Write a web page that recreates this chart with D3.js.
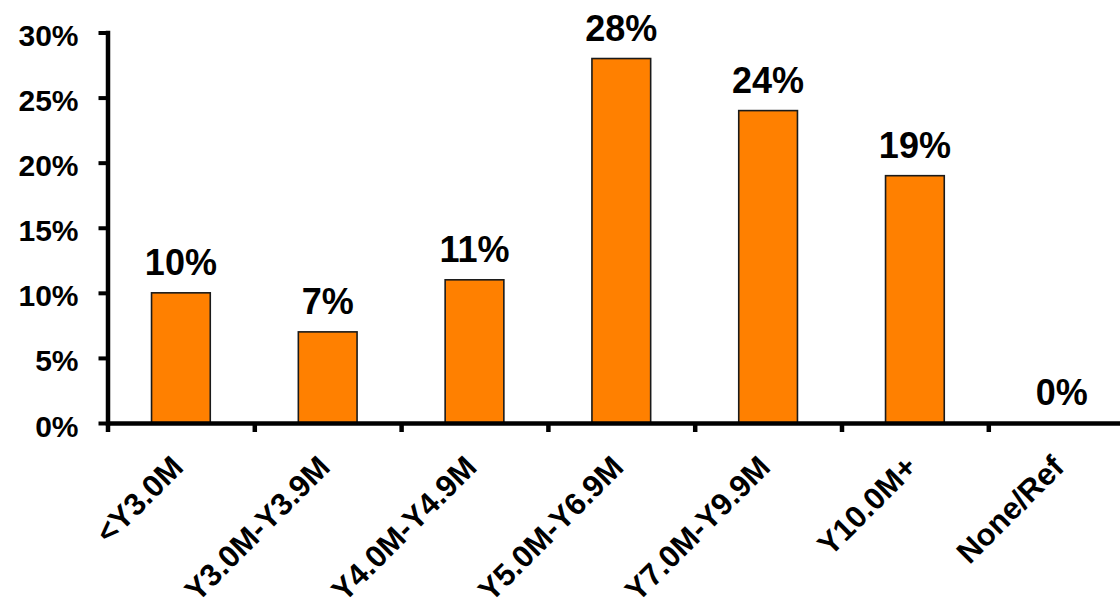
<!DOCTYPE html>
<html>
<head>
<meta charset="utf-8">
<script src="https://cdn.jsdelivr.net/npm/d3@7"></script>
<style>
  html, body { margin: 0; padding: 0; background: #fff; }
  svg { display: block; }
  text { font-family: "Liberation Sans", Arial, sans-serif; font-weight: bold; fill: #000; }
</style>
</head>
<body>
<svg id="chart" width="1120" height="608"></svg>
<script>
// Income brackets and share of respondents in each
const categories = ["<Y3.0M", "Y3.0M-Y3.9M", "Y4.0M-Y4.9M", "Y5.0M-Y6.9M", "Y7.0M-Y9.9M", "Y10.0M+", "None/Ref"];
const shares = [10, 7, 11, 28, 24, 19, 0];
const yTicks = [0, 5, 10, 15, 20, 25, 30];

const svg = d3.select("#chart");

const x0 = 107.5, step = 146.8;
const x = d3.scaleBand()
  .domain(categories)
  .range([x0, x0 + step * categories.length])
  .paddingInner(0.6)
  .paddingOuter(0.3);

const y = d3.scaleLinear().domain([0, 30]).range([423, 32.5]);

// category boundaries for the x-axis tick marks
const xEdge = d3.scaleLinear().domain([0, categories.length]).range(x.range());

// bars
svg.append("g")
  .selectAll("rect")
  .data(shares)
  .join("rect")
  .attr("x", (d, i) => x(categories[i]))
  .attr("width", x.bandwidth())
  .attr("y", d => y(d))
  .attr("height", d => y(0) - y(d))
  .attr("fill", "#FF8000")
  .attr("stroke", "#1a1a1a")
  .attr("stroke-width", 1.6);

// value labels
svg.append("g")
  .selectAll("text")
  .data(shares)
  .join("text")
  .attr("x", (d, i) => x(categories[i]) + x.bandwidth() / 2)
  .attr("y", d => y(d) - 18)
  .attr("text-anchor", "middle")
  .style("font-size", "36px")
  .text(d => d + "%");

// y axis
const yAxis = svg.append("g")
  .attr("transform", `translate(${x0},0)`)
  .call(d3.axisLeft(y).tickValues(yTicks).tickFormat(d => d + "%").tickSize(9).tickPadding(0).tickSizeOuter(0));
yAxis.select(".domain").attr("stroke", "#000").attr("stroke-width", 4.5).attr("stroke-linecap", "square");
yAxis.selectAll(".tick line").attr("stroke", "#000").attr("stroke-width", 4);
yAxis.selectAll(".tick text")
  .attr("x", -29)
  .attr("dy", "13px")
  .style("font-size", "30px")
  .style("font-family", "'Liberation Sans', Arial, sans-serif")
  .style("font-weight", "bold");

// x axis: tick marks sit on category boundaries
const xAxis = svg.append("g")
  .attr("transform", `translate(0,${y(0)})`)
  .call(d3.axisBottom(xEdge).tickValues(d3.range(categories.length + 1)).tickFormat("").tickSize(9).tickSizeOuter(0));
xAxis.select(".domain").attr("stroke", "#000").attr("stroke-width", 4.5);
xAxis.selectAll(".tick line").attr("stroke", "#000").attr("stroke-width", 4.5);

// rotated category labels
svg.append("g")
  .selectAll("text")
  .data(categories)
  .join("text")
  .attr("text-anchor", "end")
  .attr("transform", d => `translate(${x(d) + x.bandwidth() / 2 + 4},469) rotate(-45)`)
  .style("font-size", "31px")
  .text(d => d);
</script>
</body>
</html>
